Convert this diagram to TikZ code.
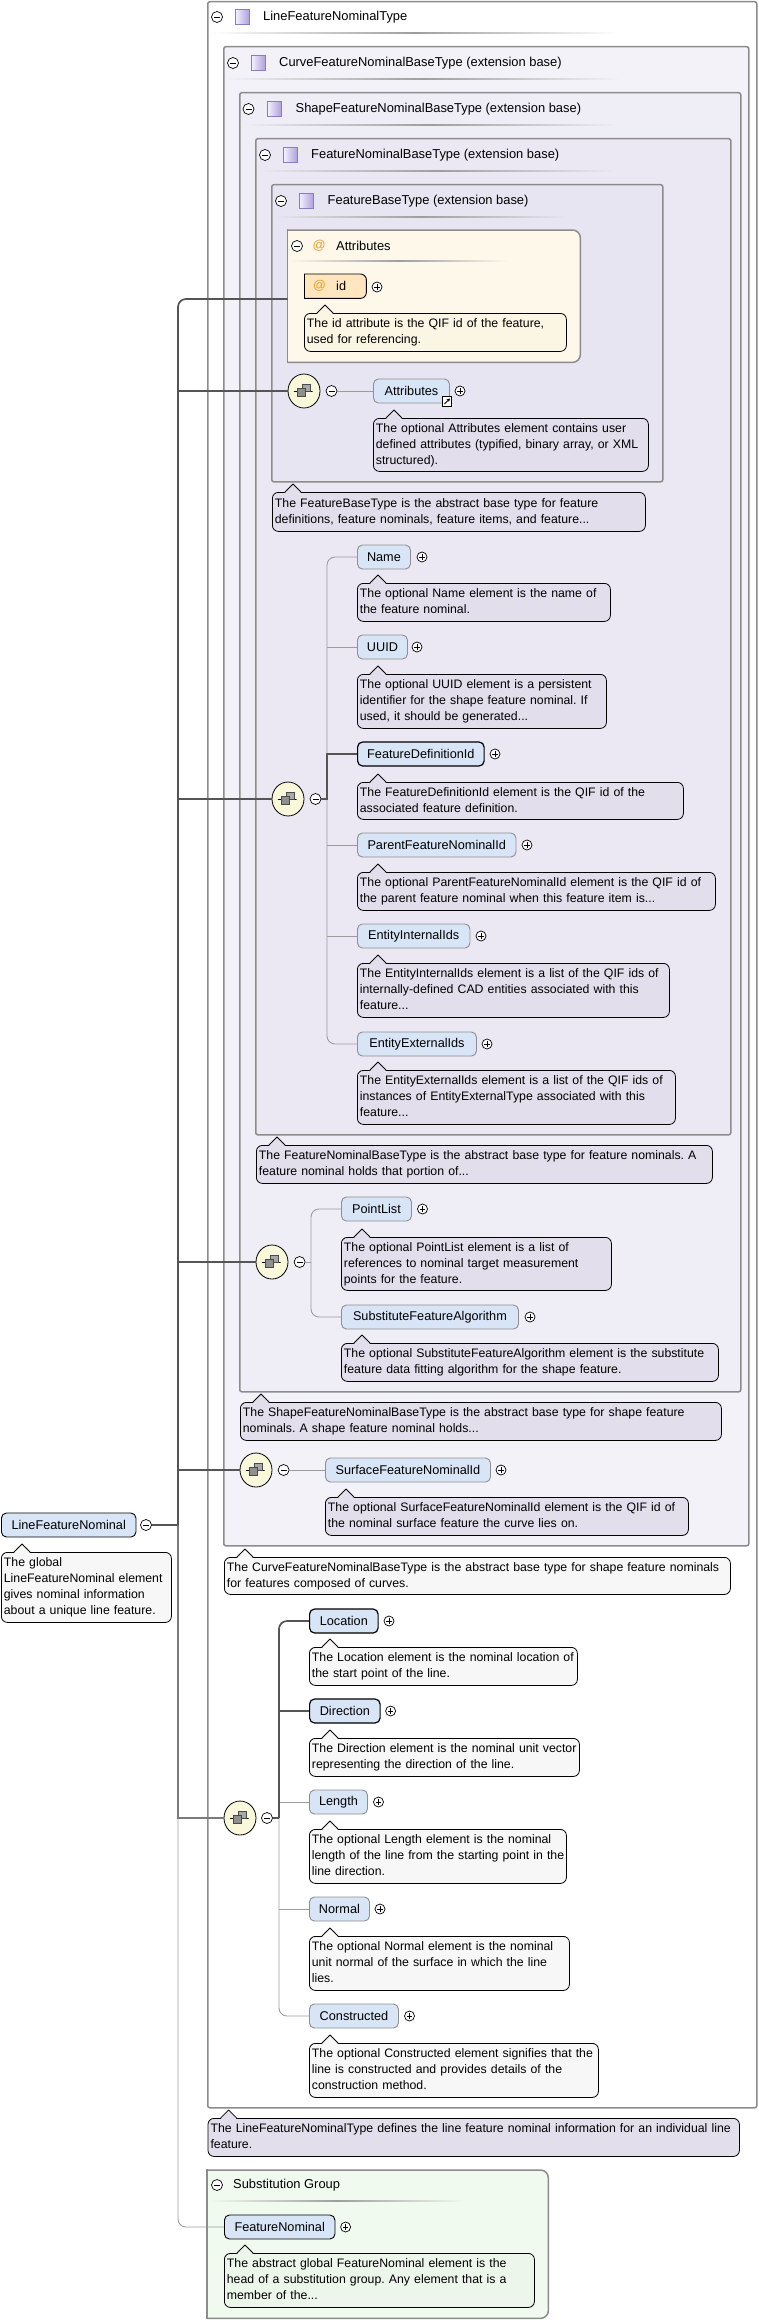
\documentclass[tikz,border=0pt]{standalone}
\usepackage{fontspec}
\setmainfont{Liberation Sans}
\usetikzlibrary{shapes.geometric,arrows.meta}
\frenchspacing
\definecolor{boxBorder}{HTML}{8C8C8C}
\definecolor{lav0}{HTML}{FFFFFF}
\definecolor{lav1}{HTML}{F4F2F9}
\definecolor{lav2}{HTML}{EFEDF6}
\definecolor{lav3}{HTML}{EBE8F4}
\definecolor{lav4}{HTML}{E8E5F2}
\definecolor{docLav}{HTML}{E2DEEC}
\definecolor{docGray}{HTML}{F7F7F7}
\definecolor{docCream}{HTML}{FBF5E4}
\definecolor{docGreen}{HTML}{EDF6EB}
\definecolor{eltFill}{HTML}{D8E5F6}
\definecolor{optBorder}{HTML}{8E8E8E}
\definecolor{attrCont}{HTML}{FDF8EA}
\definecolor{attrFill}{HTML}{FFE6BE}
\definecolor{atOrange}{HTML}{E89E28}
\definecolor{compFill}{HTML}{FAF8DA}
\definecolor{sgFill}{HTML}{F1FAEF}
\definecolor{thickLine}{HTML}{555555}
\definecolor{midLine}{HTML}{7A7A7A}
\definecolor{thinLine}{HTML}{9C9C9C}
\definecolor{iconBorder}{HTML}{8A7CC0}
\definecolor{iconLight}{HTML}{F6F3FF}
\definecolor{iconDark}{HTML}{B0A2DC}
\definecolor{sepGray}{HTML}{9E9E9E}
\definecolor{sqGray}{HTML}{A8A8A8}
\definecolor{sqDark}{HTML}{4A4A4A}
\newcommand\docfont{\fontsize{12.3}{16}\selectfont}
\newcommand\eltfont{\fontsize{12.7}{15}\selectfont}
\newcommand\hdrfont{\fontsize{12.9}{15}\selectfont}
\newcommand\dlines[1]{\begin{tabular}{@{}l@{}}#1\end{tabular}}
\newcommand\docnode[7]{%
  \pgfmathsetmacro\dnw{#4-(#2)}%
  \pgfmathsetmacro\dnh{#5-(#3)}%
  \pgfmathsetmacro\dnt{#4-(#2)-5}%
  \node[doc, fill=#6, minimum width=\dnw pt, minimum height=\dnh pt, text width=\dnt pt] (#1) at (#2,#3) {\dlines{#7}};%
  \fill[#6] ({#2+13},{#3+1}) -- ({#2+21},{#3-8}) -- ({#2+29},{#3+1}) -- cycle;%
  \draw[line width=0.8pt, line join=round] ({#2+13},#3) -- ({#2+21},{#3-8}) -- ({#2+29},#3);%
}
\newcommand\hsep[4]{\shade[left color=#4, right color=#4, middle color=sepGray] (#1,{#3-0.9}) rectangle (#2,{#3+0.9});}
\tikzset{
  typebox/.style={draw=boxBorder, line width=1.5pt, anchor=north west, inner sep=0pt, rounded corners=2pt},
  doc/.style={draw=black, line width=0.8pt, rounded corners=6pt, anchor=north west, inner xsep=2.5pt, inner ysep=0pt, align=left, font=\docfont},
  elt/.style={draw=optBorder, line width=0.9pt, fill=eltFill, rounded corners=5pt, minimum height=24pt, inner sep=0pt, anchor=west, font=\eltfont},
  reqelt/.style={elt, draw=black, line width=1.2pt},
  gelt/.style={elt, draw=black, line width=0.9pt},
  pmcirc/.style={circle, draw=black, line width=0.7pt, fill=white, inner sep=0pt},
  plusc/.style={pmcirc, minimum size=10pt, path picture={
     \draw[line width=0.7pt] ([xshift=-2.7pt]path picture bounding box.center) -- ([xshift=2.7pt]path picture bounding box.center);
     \draw[line width=0.7pt] ([yshift=-2.7pt]path picture bounding box.center) -- ([yshift=2.7pt]path picture bounding box.center);}},
  minusc/.style={pmcirc, minimum size=11pt, path picture={
     \draw[line width=0.7pt] ([xshift=-3pt]path picture bounding box.center) -- ([xshift=3pt]path picture bounding box.center);}},
  comp/.style={ellipse, draw=black, line width=0.8pt, fill=compFill, minimum width=32pt, minimum height=34pt, inner sep=0pt,
     path picture={\begin{scope}[shift={(path picture bounding box.center)}, x=1pt, y=1pt]
       \draw[line width=0.8pt] (-11,0) -- (9,0);
       \fill (-11,0) circle (1.4);
       \fill (11.5,0) -- (8.5,1.8) -- (8.5,-1.8) -- cycle;
       \draw[fill=sqGray, draw=sqDark, line width=0.6pt] (-2,-0.5) rectangle (6,7);
       \draw[fill=sqGray!85!black, draw=sqDark, line width=0.6pt] (-7,-5) rectangle (1,2.5);
     \end{scope}}},
  hicon/.style={rectangle, draw=iconBorder, line width=0.6pt, minimum width=14pt, minimum height=15pt, inner sep=0pt, left color=iconLight, right color=iconDark},
  hdr/.style={anchor=west, inner sep=0pt, font=\hdrfont},
  linkicon/.style={rectangle, draw=black, fill=white, line width=0.7pt, minimum size=9.5pt, inner sep=0pt,
     path picture={\begin{scope}[shift={(path picture bounding box.center)}, x=1pt, y=1pt]
       \draw[line width=1pt, -{Stealth[length=3.4pt,width=3.6pt]}] (-2.6,-2.6) -- (3,3);
     \end{scope}}},
  reqline/.style={draw=thickLine, line width=1.7pt},
  midline/.style={draw=midLine, line width=1.3pt},
  optline/.style={draw=thinLine, line width=0.9pt}
}
\begin{document}
\begin{tikzpicture}[x=1pt,y=-1pt]
\useasboundingbox (0,0) rectangle (758,2320);

% ---------- type boxes ----------
\node[typebox, fill=lav0, minimum width=549pt, minimum height=2106pt] (lfntBox) at (207,1) {};
\node[typebox, fill=lav1, minimum width=525pt, minimum height=1499pt] (curveBox) at (223,46) {};
\node[typebox, fill=lav2, minimum width=501pt, minimum height=1299pt] (shapeBox) at (239,92) {};
\node[typebox, fill=lav3, minimum width=475pt, minimum height=996pt] (fnbBox) at (255,138) {};
\node[typebox, fill=lav4, minimum width=391pt, minimum height=297pt] (fbBox) at (271,184) {};

% attributes container (right corners rounded)
\node[anchor=north west, inner sep=0pt, minimum width=292.5pt, minimum height=132pt] (attrBox) at (287.5,230) {};
\path[fill=attrCont, draw=boxBorder, line width=1.5pt, rounded corners=8pt] (attrBox.north west) -- (attrBox.north east) -- (attrBox.south east) -- (attrBox.south west);
\draw[boxBorder, line width=1.5pt, line cap=rect] (attrBox.north west) -- (attrBox.south west);

% substitution group box
\node[anchor=north west, inner sep=0pt, minimum width=341pt, minimum height=148pt] (sgBox) at (207,2170) {};
\path[fill=sgFill, draw=boxBorder, line width=1.5pt, rounded corners=8pt] (sgBox.north west) -- (sgBox.north east) -- (sgBox.south east) -- (sgBox.south west);
\draw[boxBorder, line width=1.5pt, line cap=rect] (sgBox.north west) -- (sgBox.south west);

% ---------- headers ----------
\node[minusc] (lfntM) at (217,17) {};
\node[hicon] (lfntI) at (242,17) {};
\node[hdr] (lfntT) at (263,17) {LineFeatureNominalType};
\hsep{210}{620}{33}{lav0}

\node[minusc] (curveM) at (233,63) {};
\node[hicon] (curveI) at (258,63) {};
\node[hdr] (curveT) at (279,63) {CurveFeatureNominalBaseType (extension base)};
\hsep{226}{620}{79}{lav1}

\node[minusc] (shapeM) at (248.5,109) {};
\node[hicon] (shapeI) at (274,109) {};
\node[hdr] (shapeT) at (295.5,109) {ShapeFeatureNominalBaseType (extension base)};
\hsep{242}{617}{125}{lav2}

\node[minusc] (fnbM) at (265,155) {};
\node[hicon] (fnbI) at (290,155) {};
\node[hdr] (fnbT) at (311,155) {FeatureNominalBaseType (extension base)};
\hsep{258}{615}{171}{lav3}

\node[minusc] (fbM) at (281,201) {};
\node[hicon] (fbI) at (306,201) {};
\node[hdr] (fbT) at (327.5,201) {FeatureBaseType (extension base)};
\hsep{274}{568}{217}{lav4}

\node[minusc] (attrM) at (297,246) {};
\node[hdr, text=atOrange] (attrAt) at (312.5,246) {@};
\node[hdr] (attrT) at (336,246) {Attributes};
\hsep{290}{508}{261}{attrCont}

\node[minusc] (sgM) at (217,2185) {};
\node[hdr] (sgT) at (233,2185) {Substitution Group};
\hsep{210}{465}{2201}{sgFill}

% ---------- id attribute ----------
\node[anchor=north west, inner sep=0pt, minimum width=62pt, minimum height=24pt, font=\eltfont] (idE) at (304,274) {};
\path[fill=attrFill, draw=black, line width=0.9pt, rounded corners=6pt] (idE.north west) -- (idE.north east) -- (idE.south east) -- (idE.south west);
\draw[black, line width=0.9pt, line cap=rect] (idE.north west) -- (idE.south west);
\node[hdr, font=\eltfont, text=atOrange] (idAt) at (313,286) {@};
\node[hdr, font=\eltfont] (idT) at (336,286) {id};
\node[plusc] (idP) at (377,287) {};
\docnode{idD}{304}{313}{566}{351}{docCream}{The id attribute is the QIF id of the feature,\\used for referencing.}

% ---------- compositors ----------
\node[comp] (c1) at (304,391) {};
\node[minusc] (c1m) at (331.5,391) {};
\node[comp] (c2) at (288,799) {};
\node[minusc] (c2m) at (315.5,799) {};
\node[comp] (c3) at (272,1262) {};
\node[minusc] (c3m) at (299.6,1262) {};
\node[comp] (c4) at (256,1470) {};
\node[minusc] (c4m) at (283.6,1470) {};
\node[comp] (c5) at (240,1818) {};
\node[minusc] (c5m) at (267,1818) {};

% ---------- elements ----------
\node[elt, minimum width=76pt] (attrE) at (373,391) {Attributes};
\node[plusc] (attrP) at (460,391) {};
\node[linkicon] (attrL) at (447,401.5) {};
\docnode{attrD}{373}{418}{648}{471}{docLav}{The optional Attributes element contains user\\defined attributes (typified, binary array, or XML\\structured).}

\docnode{fbD}{272}{492}{645}{531}{docLav}{The FeatureBaseType is the abstract base type for feature\\definitions, feature nominals, feature items, and feature...}

\node[elt, minimum width=53pt] (nameE) at (357,557) {Name};
\node[plusc] (nameP) at (422,557) {};
\docnode{nameD}{357}{583}{610}{621}{docLav}{The optional Name element is the name of\\the feature nominal.}

\node[elt, minimum width=50pt] (uuidE) at (357,647) {UUID};
\node[plusc] (uuidP) at (417,647) {};
\docnode{uuidD}{357}{674}{606}{728}{docLav}{The optional UUID element is a persistent\\identifier for the shape feature nominal. If\\used, it should be generated...}

\node[reqelt, minimum width=126.5pt] (fdiE) at (357,754) {FeatureDefinitionId};
\node[plusc] (fdiP) at (495,754) {};
\docnode{fdiD}{357}{782}{683}{819}{docLav}{The FeatureDefinitionId element is the QIF id of the\\associated feature definition.}

\node[elt, minimum width=158.5pt] (pfniE) at (357,845) {ParentFeatureNominalId};
\node[plusc] (pfniP) at (527,845) {};
\docnode{pfniD}{357}{872}{715}{910}{docLav}{The optional ParentFeatureNominalId element is the QIF id of\\the parent feature nominal when this feature item is...}

\node[elt, minimum width=112.5pt] (eiiE) at (357,936) {EntityInternalIds};
\node[plusc] (eiiP) at (481,936) {};
\docnode{eiiD}{357}{963}{669}{1017}{docLav}{The EntityInternalIds element is a list of the QIF ids of\\internally-defined CAD entities associated with this\\feature...}

\node[elt, minimum width=119pt] (eeiE) at (357,1044) {EntityExternalIds};
\node[plusc] (eeiP) at (487,1044) {};
\docnode{eeiD}{357}{1070}{675}{1124}{docLav}{The EntityExternalIds element is a list of the QIF ids of\\instances of EntityExternalType associated with this\\feature...}

\docnode{fnbD}{256}{1145}{712}{1183}{docLav}{The FeatureNominalBaseType is the abstract base type for feature nominals. A\\feature nominal holds that portion of...}

\node[elt, minimum width=70pt] (plE) at (341,1209) {PointList};
\node[plusc] (plP) at (422.5,1209) {};
\docnode{plD}{341}{1237}{611}{1290}{docLav}{The optional PointList element is a list of\\references to nominal target measurement\\points for the feature.}

\node[elt, minimum width=177pt] (sfaE) at (341,1317) {SubstituteFeatureAlgorithm};
\node[plusc] (sfaP) at (530,1317) {};
\docnode{sfaD}{341}{1343}{718}{1381}{docLav}{The optional SubstituteFeatureAlgorithm element is the substitute\\feature data fitting algorithm for the shape feature.}

\docnode{shapeD}{240}{1402}{721}{1440}{docLav}{The ShapeFeatureNominalBaseType is the abstract base type for shape feature\\nominals. A shape feature nominal holds...}

\node[elt, minimum width=165pt] (sfniE) at (325,1470) {SurfaceFeatureNominalId};
\node[plusc] (sfniP) at (501,1470) {};
\docnode{sfniD}{325}{1497}{688}{1535}{docLav}{The optional SurfaceFeatureNominalId element is the QIF id of\\the nominal surface feature the curve lies on.}

\node[gelt, minimum width=134.5pt] (lfnE) at (1,1525) {LineFeatureNominal};
\node[minusc] (lfnM) at (146,1525) {};
\docnode{lfnD}{1}{1552}{171}{1622}{docGray}{The global\\LineFeatureNominal element\\gives nominal information\\about a unique line feature.}

\docnode{curveD}{224}{1557}{730}{1594}{docGray}{The CurveFeatureNominalBaseType is the abstract base type for shape feature nominals\\for features composed of curves.}

\node[reqelt, minimum width=68.5pt] (locE) at (309,1621) {Location};
\node[plusc] (locP) at (389,1621) {};
\docnode{locD}{309}{1647}{577}{1685}{docGray}{The Location element is the nominal location of\\the start point of the line.}

\node[reqelt, minimum width=70.5pt] (dirE) at (309,1711) {Direction};
\node[plusc] (dirP) at (390.6,1711) {};
\docnode{dirD}{309}{1738}{579}{1776}{docGray}{The Direction element is the nominal unit vector\\representing the direction of the line.}

\node[elt, minimum width=58pt] (lenE) at (309,1802) {Length};
\node[plusc] (lenP) at (378.5,1802) {};
\docnode{lenD}{309}{1829}{566}{1883}{docGray}{The optional Length element is the nominal\\length of the line from the starting point in the\\line direction.}

\node[elt, minimum width=60pt] (normE) at (309,1909) {Normal};
\node[plusc] (normP) at (380,1909) {};
\docnode{normD}{309}{1936}{569}{1990}{docGray}{The optional Normal element is the nominal\\unit normal of the surface in which the line\\lies.}

\node[elt, minimum width=89pt] (consE) at (309,2016) {Constructed};
\node[plusc] (consP) at (409.5,2016) {};
\docnode{consD}{309}{2043}{598}{2097}{docGray}{The optional Constructed element signifies that the\\line is constructed and provides details of the\\construction method.}

\docnode{lfntD}{207.6}{2118}{739}{2156}{docLav}{The LineFeatureNominalType defines the line feature nominal information for an individual line\\feature.}

\node[gelt, minimum width=110.5pt] (fnE) at (224,2227) {FeatureNominal};
\node[plusc] (fnP) at (345.6,2227) {};
\docnode{fnD}{224}{2253}{534}{2307}{docGreen}{The abstract global FeatureNominal element is the\\head of a substitution group. Any element that is a\\member of the...}

% ---------- connectors ----------
\coordinate (bus) at (178,1525);
\coordinate (attrIn) at (287.5,299);
\coordinate (c2bus) at (327,799);
\coordinate (c3bus) at (311,1262);
\coordinate (c5bus) at (279,1818);
\coordinate (busC5) at (178,1818);

% compositor 1
\draw[optline] (c1m.east) -- (attrE.west);
% compositor 2
\draw[optline, rounded corners=8pt] (c2bus) |- (nameE.west);
\draw[optline, rounded corners=8pt] (c2bus) |- (eeiE.west);
\draw[optline] (c2bus |- uuidE.west) -- (uuidE.west);
\draw[optline] (c2bus |- pfniE.west) -- (pfniE.west);
\draw[optline] (c2bus |- eiiE.west) -- (eiiE.west);
\draw[reqline] (c2m.east) -- (c2bus) |- (fdiE.west);
% compositor 3
\draw[optline, rounded corners=8pt] (c3bus) |- (plE.west);
\draw[optline, rounded corners=8pt] (c3bus) |- (sfaE.west);
\draw[optline] (c3m.east) -- (c3bus);
% compositor 4
\draw[optline] (c4m.east) -- (sfniE.west);
% compositor 5
\draw[optline, rounded corners=8pt] (c5bus) |- (consE.west);
\draw[optline] (c5bus |- lenE.west) -- (lenE.west);
\draw[optline] (c5bus |- normE.west) -- (normE.west);
\draw[reqline, rounded corners=8pt] (c5bus) |- (locE.west);
\draw[reqline] (c5bus |- dirE.west) -- (dirE.west);
\draw[reqline] (c5m.east) -- (c5bus);

% main bus
\draw[optline, rounded corners=8pt] (busC5) |- (fnE.west);
\draw[midline] (bus) -- (busC5) -- (c5.west);
\draw[reqline, rounded corners=8pt] (attrIn) -| (bus);
\draw[reqline] (bus) -- (lfnM.east);
\draw[reqline] (c1.west) -- (c1.west -| bus);
\draw[reqline] (c2.west) -- (c2.west -| bus);
\draw[reqline] (c3.west) -- (c3.west -| bus);
\draw[reqline] (c4.west) -- (c4.west -| bus);
\end{tikzpicture}
\end{document}
